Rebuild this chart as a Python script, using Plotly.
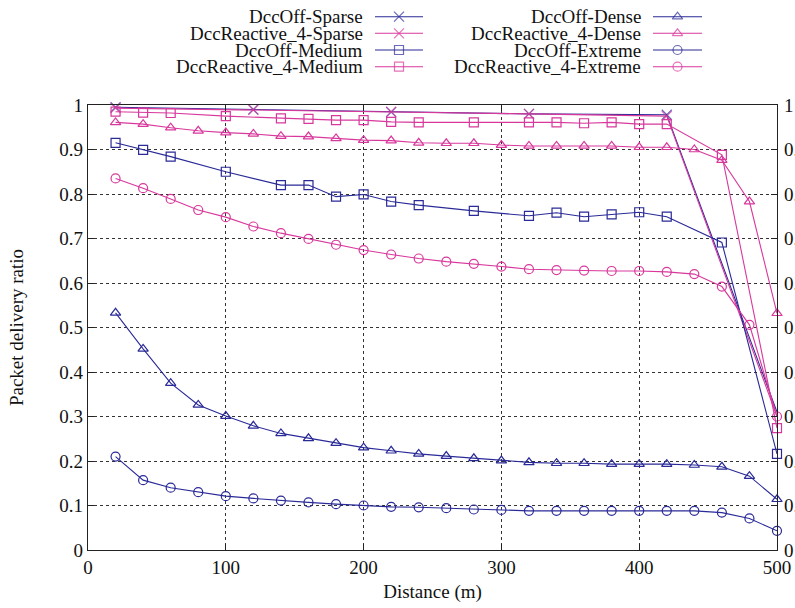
import plotly.graph_objects as go

W, H = 795, 608
# plot area in pixels
PL, PR, PT, PB = 88, 777, 105, 550

BLUE = "#2a2a98"
PINK = "#d8389c"
FONT = "Liberation Serif"

x_sparse = [20, 120, 220, 320, 420, 500]
off_sparse = [0.995, 0.990, 0.984, 0.980, 0.978, 0.310]
r4_sparse = [0.993, 0.989, 0.985, 0.980, 0.975, 0.300]

x_medium = [20, 40, 60, 100, 140, 160, 180, 200, 220, 240, 280, 320, 340, 360, 380, 400, 420, 460, 500]
off_medium = [0.915, 0.899, 0.884, 0.850, 0.820, 0.820, 0.794, 0.799, 0.783, 0.775, 0.762, 0.751,
              0.758, 0.749, 0.754, 0.759, 0.749, 0.691, 0.216]
r4_medium = [0.985, 0.983, 0.982, 0.975, 0.970, 0.969, 0.966, 0.966, 0.962, 0.961, 0.961, 0.961,
             0.961, 0.959, 0.961, 0.957, 0.957, 0.888, 0.274]

x_all = [20, 40, 60, 80, 100, 120, 140, 160, 180, 200, 220, 240, 260, 280, 300, 320, 340, 360,
         380, 400, 420, 440, 460, 480, 500]
off_dense = [0.533, 0.452, 0.375, 0.326, 0.301, 0.279, 0.262, 0.251, 0.240, 0.230, 0.223, 0.216,
             0.211, 0.206, 0.201, 0.197, 0.195, 0.195, 0.193, 0.193, 0.193, 0.191, 0.187, 0.166, 0.114]
r4_dense = [0.961, 0.957, 0.949, 0.942, 0.938, 0.935, 0.930, 0.929, 0.925, 0.921, 0.920, 0.915,
            0.914, 0.914, 0.910, 0.908, 0.908, 0.908, 0.908, 0.905, 0.905, 0.900, 0.876, 0.783, 0.532]
off_extreme = [0.210, 0.157, 0.140, 0.130, 0.121, 0.116, 0.111, 0.107, 0.103, 0.100, 0.097, 0.096,
               0.094, 0.091, 0.090, 0.088, 0.088, 0.088, 0.088, 0.088, 0.088, 0.088, 0.084, 0.071, 0.043]
r4_extreme = [0.835, 0.813, 0.789, 0.764, 0.748, 0.727, 0.712, 0.699, 0.686, 0.674, 0.664, 0.655,
              0.648, 0.643, 0.637, 0.631, 0.629, 0.628, 0.627, 0.627, 0.625, 0.620, 0.592, 0.506, 0.300]

x_ticks = [0, 100, 200, 300, 400, 500]
y_ticks = [0, 0.1, 0.2, 0.3, 0.4, 0.5, 0.6, 0.7, 0.8, 0.9, 1]
y_tick_text = ["0", "0.1", "0.2", "0.3", "0.4", "0.5", "0.6", "0.7", "0.8", "0.9", "1"]

series = [
    ("DccOff-Sparse", x_sparse, off_sparse, BLUE, "x-thin-open", 10),
    ("DccReactive_4-Sparse", x_sparse, r4_sparse, PINK, "x-thin-open", 10),
    ("DccOff-Medium", x_medium, off_medium, BLUE, "square-open", 9),
    ("DccReactive_4-Medium", x_medium, r4_medium, PINK, "square-open", 9),
    ("DccOff-Dense", x_all, off_dense, BLUE, "triangle-up-open", 9),
    ("DccReactive_4-Dense", x_all, r4_dense, PINK, "triangle-up-open", 9),
    ("DccOff-Extreme", x_all, off_extreme, BLUE, "circle-open", 9),
    ("DccReactive_4-Extreme", x_all, r4_extreme, PINK, "circle-open", 9),
]

fig = go.Figure()
for name, xs, ys, col, sym, sz in series:
    if "Sparse" in name:
        sizes = [sz] * (len(xs) - 1) + [0]
    else:
        sizes = sz
    fig.add_trace(go.Scatter(
        x=xs, y=ys, name=name, mode="lines+markers",
        line=dict(color=col, width=1.1),
        marker=dict(symbol=sym, size=sizes, color=col, line=dict(color=col, width=1.2)),
        showlegend=False, xaxis="x", yaxis="y", cliponaxis=False,
    ))

# custom gnuplot-style key: text right-aligned, sample to the right
rows = [16.7, 33.3, 50.0, 66.7]
cols = [(365, 375, 423), (643, 653, 702)]
annotations = []
for i, (name, xs, ys, col, sym, sz) in enumerate(series):
    c = cols[i // 4]
    r = rows[i % 4]
    annotations.append(dict(
        x=c[0] / W, y=1 - r / H, xref="paper", yref="paper", text=name,
        showarrow=False, xanchor="right", yanchor="middle",
        font=dict(family=FONT, size=19, color="#111111"),
    ))
    fig.add_trace(go.Scatter(
        x=[c[1], (c[1] + c[2]) / 2, c[2]], y=[r, r, r], mode="lines+markers",
        line=dict(color=col, width=1.1),
        marker=dict(symbol=sym, size=[0, sz, 0], color=col, line=dict(color=col, width=1.2)),
        showlegend=False, xaxis="x3", yaxis="y3", hoverinfo="skip", cliponaxis=False,
    ))

axis_font = dict(family=FONT, size=19, color="#111111")

fig.update_layout(
    width=W, height=H,
    margin=dict(l=0, r=0, t=0, b=0),
    paper_bgcolor="white", plot_bgcolor="rgba(0,0,0,0)",
    template="none",
    showlegend=False,
    annotations=annotations,
    xaxis=dict(
        domain=[PL / W, PR / W], range=[0, 500], anchor="y",
        tickvals=x_ticks, ticktext=[str(v) for v in x_ticks],
        showline=True, linecolor="#222222", linewidth=1.2, mirror="ticks",
        ticks="inside", ticklen=6, tickcolor="#222222",
        showgrid=True, gridcolor="#333333", griddash="dot", gridwidth=1,
        zeroline=False, tickfont=axis_font, automargin=False,
        title=dict(text="Distance (m)", font=axis_font, standoff=7),
    ),
    yaxis=dict(
        domain=[1 - PB / H, 1 - PT / H], range=[0, 1], anchor="x",
        tickvals=y_ticks, ticktext=y_tick_text,
        showline=True, linecolor="#222222", linewidth=1.2, mirror="ticks",
        ticks="inside", ticklen=6, tickcolor="#222222",
        showgrid=True, gridcolor="#333333", griddash="dot", gridwidth=1,
        zeroline=False, tickfont=axis_font, automargin=False,
        title=dict(text="Packet delivery ratio", font=axis_font, standoff=30),
    ),
    yaxis2=dict(
        overlaying="y", side="right", anchor="x", range=[0, 1],
        tickvals=y_ticks, ticktext=y_tick_text, ticks="", showgrid=False,
        zeroline=False, showline=False, tickfont=axis_font, automargin=False,
        ticklabelstandoff=6,
    ),
    xaxis3=dict(domain=[0, 1], range=[0, W], visible=False, anchor="y3", fixedrange=True),
    yaxis3=dict(domain=[0, 1], range=[H, 0], visible=False, anchor="x3", fixedrange=True),
)

# dummy trace to activate right tick labels
fig.add_trace(go.Scatter(x=[None], y=[None], xaxis="x", yaxis="y2", showlegend=False))

fig.write_html("out.html", config={"displayModeBar": False},
               post_script="document.body.style.margin='0';")
